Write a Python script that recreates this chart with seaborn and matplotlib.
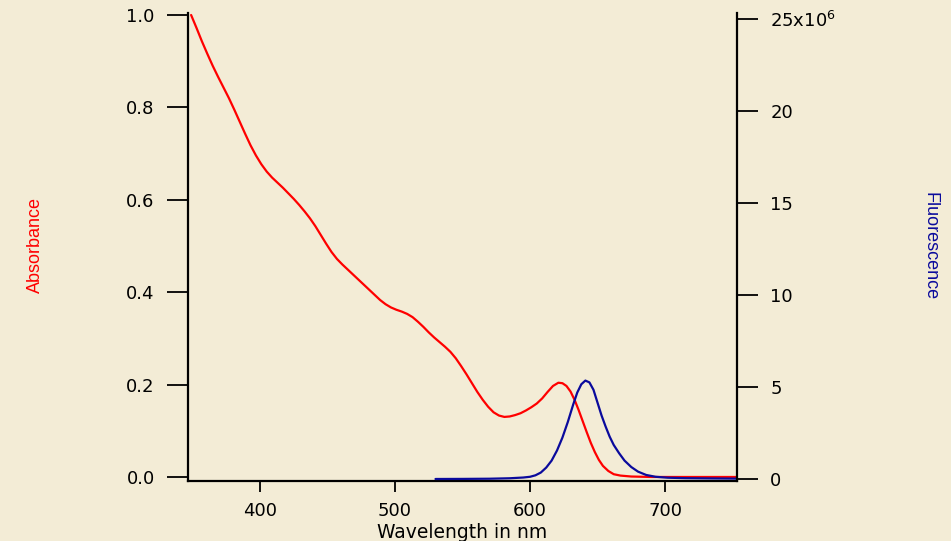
import matplotlib
matplotlib.use("Agg")
import matplotlib.pyplot as plt
import seaborn as sns
import pandas as pd
from matplotlib.ticker import FixedLocator, FixedFormatter

# ---- data ----
abs_wavelength = [349, 353, 357, 361, 365, 369, 373, 377, 381, 385, 389, 393, 397, 401,
                  405, 409, 413, 417, 421, 425, 429, 433, 437, 441, 445, 449, 453, 457,
                  461, 465, 469, 473, 477, 481, 485, 489, 493, 497, 501, 505, 509, 513,
                  517, 521, 525, 529, 533, 537, 541, 545, 549, 553, 557, 561, 565, 569,
                  573, 577, 581, 585, 589, 593, 597, 601, 605, 609, 613, 617, 621, 624,
                  627, 630, 633, 636, 639, 642, 645, 648, 651, 654, 658, 662, 667, 675,
                  690, 753]
absorbance = [1.000, 0.972, 0.943, 0.916, 0.890, 0.866, 0.843, 0.820, 0.795, 0.769, 0.743,
              0.718, 0.696, 0.677, 0.661, 0.648, 0.637, 0.626, 0.614, 0.602, 0.589, 0.575,
              0.560, 0.543, 0.524, 0.505, 0.487, 0.472, 0.460, 0.449, 0.438, 0.427, 0.416,
              0.405, 0.394, 0.383, 0.374, 0.367, 0.362, 0.358, 0.353, 0.346, 0.336, 0.325,
              0.313, 0.302, 0.292, 0.282, 0.271, 0.257, 0.240, 0.222, 0.203, 0.184, 0.167,
              0.152, 0.140, 0.133, 0.130, 0.131, 0.134, 0.138, 0.144, 0.151, 0.159, 0.170,
              0.184, 0.197, 0.204, 0.203, 0.197, 0.185, 0.167, 0.145, 0.121, 0.097, 0.074,
              0.054, 0.037, 0.024, 0.013, 0.006, 0.003, 0.001, 0.0, 0.0]

fl_wavelength = [530, 550, 570, 585, 595, 600, 604, 608, 612, 616, 620, 624, 628, 632, 635,
                 638, 641, 644, 647, 650, 653, 656, 659, 662, 666, 670, 675, 680, 686, 693,
                 702, 715, 735, 753]
fluorescence = [0.0, 0.005, 0.015, 0.04, 0.08, 0.12, 0.2, 0.35, 0.62, 1.0, 1.55, 2.25, 3.1,
                4.05, 4.7, 5.15, 5.35, 5.25, 4.85, 4.15, 3.45, 2.85, 2.3, 1.85, 1.4, 1.0,
                0.65, 0.4, 0.22, 0.12, 0.07, 0.045, 0.03, 0.02]  # x10^6

x_ticks = [400, 500, 600, 700]
left_ticks = [0.0, 0.2, 0.4, 0.6, 0.8, 1.0]
left_labels = ["0.0", "0.2", "0.4", "0.6", "0.8", "1.0"]
right_ticks = [0, 5, 10, 15, 20, 25]
right_labels = ["0", "5", "10", "15", "20", r"25x10$^{6}$"]

bg = "#f3ecd6"
red = "#ff0000"
blue = "#0a0a9c"

sns.set_style("ticks")
plt.rcParams["font.family"] = ["DejaVu Sans"]
plt.rcParams["mathtext.fontset"] = "dejavusans"
for k in ("text.color", "axes.labelcolor", "xtick.color", "ytick.color", "axes.edgecolor"):
    plt.rcParams[k] = "black"

fig = plt.figure(figsize=(9.51, 5.41), dpi=100, facecolor=bg)
ax = fig.add_axes([188 / 951, 60 / 541, (737 - 188) / 951, (481 - 13) / 541])
ax.set_facecolor(bg)
ax2 = ax.twinx()
ax2.patch.set_visible(False)

df_abs = pd.DataFrame({"wl": abs_wavelength, "v": absorbance})
df_fl = pd.DataFrame({"wl": fl_wavelength, "v": fluorescence})
sns.lineplot(data=df_abs, x="wl", y="v", ax=ax, color=red, linewidth=1.6)
sns.lineplot(data=df_fl, x="wl", y="v", ax=ax2, color=blue, linewidth=1.6)

ax.set_xlim(346.7, 753.3)
ax.set_ylim(-0.0087, 1.0043)
ax2.set_ylim(-0.109, 25.33)

for a in (ax, ax2):
    a.spines["top"].set_visible(False)
    for s in ("left", "right", "bottom"):
        a.spines[s].set_linewidth(1.6)
        a.spines[s].set_color("black")

ax.spines["right"].set_visible(False)
ax2.spines["left"].set_visible(False)
ax2.spines["bottom"].set_visible(False)

ax.xaxis.set_major_locator(FixedLocator(x_ticks))
ax.set_xticklabels([str(t) for t in x_ticks])
ax.yaxis.set_major_locator(FixedLocator(left_ticks))
ax.yaxis.set_major_formatter(FixedFormatter(left_labels))
ax2.yaxis.set_major_locator(FixedLocator(right_ticks))
ax2.yaxis.set_major_formatter(FixedFormatter(right_labels))

ax.tick_params(axis="y", direction="out", length=15, width=1.3, pad=9, labelsize=13,
               colors="black")
ax.tick_params(axis="x", direction="out", length=8, width=1.3, pad=7, labelsize=13,
               colors="black")
ax2.tick_params(axis="y", direction="out", length=15, width=1.3, pad=9, labelsize=13,
                colors="black")

ax.set_xlabel("Wavelength in nm", fontsize=13.5, labelpad=2, color="black")
ax.set_ylabel("")
ax2.set_ylabel("")

fig.text(35 / 951, 1 - 245 / 541, "Absorbance", rotation=90, color=red,
         fontsize=13, family=["Liberation Sans", "DejaVu Sans"], ha="center", va="center")
fig.text(930 / 951, 1 - 246 / 541, "Fluorescence", rotation=-90, color=blue,
         fontsize=13, family=["Liberation Sans", "DejaVu Sans"], ha="center", va="center")

fig.savefig("out.png", dpi=100, facecolor=bg)
